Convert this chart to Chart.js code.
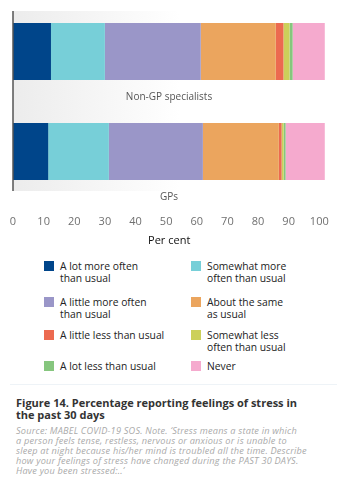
<!DOCTYPE html>
<html>
<head>
<meta charset="utf-8">
<script src="https://cdn.jsdelivr.net/npm/chart.js@4"></script>
<style>
  body { margin: 0; background: #fff; width: 337px; height: 480px; overflow: hidden; position: relative; font-family: "Open Sans", sans-serif; }
  #chart-wrap { position: absolute; left: 0; top: 0; }
  .legend { position: absolute; left: 0; top: 0; width: 337px; }
  .item { position: absolute; white-space: nowrap; font-size: 10.3px; line-height: 12px; color: #222; }
  .item i { position: absolute; left: -16px; top: 1px; width: 10px; height: 10px; }
  .sep { position: absolute; left: 10px; right: 0; top: 384px; height: 1px; background: #eef3f7; }
  .title { position: absolute; left: 16px; top: 397px; width: 290px; font-weight: 700; font-size: 11px; line-height: 12px; color: #333; }
  .source { position: absolute; left: 16px; top: 426px; white-space: nowrap; font-style: italic; font-size: 9.2px; letter-spacing: 0.2px; line-height: 9.9px; color: #aaa; }
</style>
</head>
<body>
<div id="chart-wrap"><canvas id="stress-chart" width="337" height="250"></canvas></div>
<div class="legend" id="legend"></div>
<div class="sep"></div>
<div class="title">Figure 14. Percentage reporting feelings of stress in the past 30 days</div>
<div class="source">Source: MABEL COVID-19 SOS. Note. ‘Stress means a state in which<br>a person feels tense, restless, nervous or anxious or is unable to<br>sleep at night because his/her mind is troubled all the time. Describe<br>how your feelings of stress have changed during the PAST 30 DAYS.<br>Have you been stressed:..’</div>
<script>
// Categories and series (per cent)
const categories = ["Non-GP specialists", "GPs"];
const seriesNames = [
    "A lot more often\nthan usual",
    "Somewhat more\noften than usual",
    "A little more often\nthan usual",
    "About the same\nas usual",
    "A little less than usual",
    "Somewhat less\noften than usual",
    "A lot less than usual",
    "Never"
];
const aLotMore = [12.4, 11.5];
const somewhatMore = [17.6, 19.8];
const littleMore = [31.3, 30.7];
const aboutSame = [24.5, 24.8];
const littleLess = [2.5, 0.9];
const somewhatLess = [2.0, 0.65];
const lotLess = [1.0, 0.65];
const never = [10.5, 12.8];
const xTicks = [0, 10, 20, 30, 40, 50, 60, 70, 80, 90, 100];

const colours = ["#00458a", "#77cfd8", "#9a96c8", "#eba55e", "#ec6a50", "#ccd05a", "#86c67e", "#f5aace"];
const seriesValues = [aLotMore, somewhatMore, littleMore, aboutSame, littleLess, somewhatLess, lotLess, never];

// Legend (two columns)
const legendEl = document.getElementById("legend");
const legendRows = [266, 302, 335, 366];
seriesNames.forEach((name, i) => {
    const col = i % 2;
    const row = Math.floor(i / 2);
    const div = document.createElement("div");
    div.className = "item";
    div.style.left = (col === 0 ? 60 : 207) + "px";
    div.style.top = (legendRows[row] - 6) + "px";
    div.innerHTML = `<i style="background:${colours[i]}"></i>` + name.replace("\n", "<br>");
    legendEl.appendChild(div);
});

// Grey band, axis line and category labels under each bar
const bandPlugin = {
    id: "band",
    beforeDatasetsDraw(chart) {
        const { ctx, chartArea } = chart;
        const g = ctx.createLinearGradient(chartArea.left, 0, 180, 0);
        g.addColorStop(0, "#ececec");
        g.addColorStop(1, "#ffffff");
        ctx.save();
        ctx.fillStyle = g;
        ctx.fillRect(chartArea.left, 11, 180 - chartArea.left, 180);
        ctx.restore();
    },
    afterDatasetsDraw(chart) {
        const { ctx, chartArea, scales } = chart;
        ctx.save();
        ctx.strokeStyle = "#555";
        ctx.lineWidth = 1.5;
        ctx.beginPath();
        ctx.moveTo(chartArea.left, 11);
        ctx.lineTo(chartArea.left, 191);
        ctx.stroke();
        ctx.fillStyle = "#555";
        ctx.font = "10px 'Open Sans'";
        ctx.textAlign = "center";
        ctx.textBaseline = "middle";
        categories.forEach((c, i) => {
            ctx.fillText(c, 169, scales.y.getPixelForValue(i) + 46);
        });
        ctx.restore();
    }
};

const ctx = document.getElementById("stress-chart").getContext("2d");
new Chart(ctx, {
    type: "bar",
    data: {
        labels: categories,
        datasets: seriesValues.map((vals, i) => ({
            label: seriesNames[i],
            data: vals,
            backgroundColor: colours[i],
            borderWidth: 0,
            barPercentage: 0.57,
            categoryPercentage: 1
        }))
    },
    options: {
        indexAxis: "y",
        responsive: false,
        animation: false,
        layout: { padding: { left: 13, right: 11.6, top: 1.5, bottom: 0 } },
        plugins: { legend: { display: false }, tooltip: { enabled: false } },
        scales: {
            x: {
                stacked: true,
                min: 0,
                max: 102,
                grid: { display: false, drawTicks: false, tickLength: 0 },
                border: { display: false },
                afterBuildTicks: (scale) => {
                    scale.ticks = xTicks.map((v) => ({ value: v }));
                },
                afterFit: (scale) => {
                    scale.paddingLeft = 0;
                    scale.paddingRight = 0;
                    scale.height = 48.5;
                },
                ticks: { padding: 14, maxRotation: 0, color: "#707070", font: { family: "Open Sans", size: 11 } },
                title: {
                    display: true,
                    text: "Per cent",
                    color: "#111",
                    padding: { top: 6, bottom: 3 },
                    font: { family: "Open Sans", size: 11 }
                }
            },
            y: { stacked: true, display: false }
        }
    },
    plugins: [bandPlugin]
});
</script>
</body>
</html>
